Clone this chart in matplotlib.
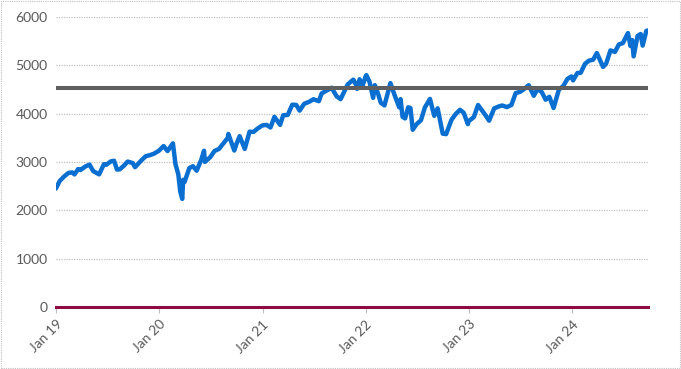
import matplotlib
matplotlib.use("Agg")
import matplotlib.pyplot as plt
import pandas as pd

# index level (semi-monthly readings with key turning points)
DATES = [
    "2019-01-01", "2019-01-15", "2019-01-31", "2019-02-15", "2019-02-28", "2019-03-08",
    "2019-03-21", "2019-03-29", "2019-04-15", "2019-04-30", "2019-05-13", "2019-05-31",
    "2019-06-03", "2019-06-20", "2019-06-28", "2019-07-15", "2019-07-26", "2019-08-05",
    "2019-08-15", "2019-08-30", "2019-09-12", "2019-09-30", "2019-10-08", "2019-10-31",
    "2019-11-15", "2019-11-29", "2019-12-13", "2019-12-31",
    "2020-01-17", "2020-01-31", "2020-02-19", "2020-02-28", "2020-03-09", "2020-03-16",
    "2020-03-23", "2020-03-26", "2020-03-31", "2020-04-17", "2020-04-30", "2020-05-13",
    "2020-05-29", "2020-06-08", "2020-06-11", "2020-06-30", "2020-07-15", "2020-07-31",
    "2020-08-14", "2020-08-31", "2020-09-02", "2020-09-23", "2020-09-30", "2020-10-12",
    "2020-10-30", "2020-11-16", "2020-11-30", "2020-12-15", "2020-12-31",
    "2021-01-15", "2021-01-29", "2021-02-12", "2021-03-04", "2021-03-15", "2021-03-31",
    "2021-04-16", "2021-04-30", "2021-05-12", "2021-05-28", "2021-06-15", "2021-06-30",
    "2021-07-19", "2021-07-29", "2021-08-16", "2021-08-31", "2021-09-02", "2021-09-20",
    "2021-10-04", "2021-10-29", "2021-11-18", "2021-11-30", "2021-12-01", "2021-12-10",
    "2021-12-20", "2021-12-31",
    "2022-01-03", "2022-01-14", "2022-01-27", "2022-02-02", "2022-02-14", "2022-02-23",
    "2022-03-08", "2022-03-29", "2022-04-12", "2022-04-29", "2022-05-04", "2022-05-11",
    "2022-05-20", "2022-05-31", "2022-06-08", "2022-06-16", "2022-06-30", "2022-07-15",
    "2022-07-29", "2022-08-16", "2022-08-31", "2022-09-12", "2022-09-30", "2022-10-12",
    "2022-10-31", "2022-11-15", "2022-11-30", "2022-12-13", "2022-12-28", "2022-12-30",
    "2023-01-18", "2023-02-02", "2023-02-28", "2023-03-13", "2023-03-31", "2023-04-17",
    "2023-04-28", "2023-05-15", "2023-05-31", "2023-06-15", "2023-06-30", "2023-07-14",
    "2023-07-31", "2023-08-18", "2023-08-31", "2023-09-15", "2023-09-29", "2023-10-12",
    "2023-10-27", "2023-11-15", "2023-11-30", "2023-12-15", "2023-12-29",
    "2024-01-04", "2024-01-19", "2024-01-31", "2024-02-15", "2024-02-29", "2024-03-15",
    "2024-03-28", "2024-04-19", "2024-04-30", "2024-05-15", "2024-05-31", "2024-06-14",
    "2024-06-28", "2024-07-16", "2024-07-25", "2024-07-31", "2024-08-05", "2024-08-19",
    "2024-08-30", "2024-09-06", "2024-09-19", "2024-09-26",
]
LEVELS = [
    2450, 2610, 2704, 2775, 2784, 2743, 2854, 2834, 2905, 2946, 2812, 2752,
    2744, 2954, 2942, 3014, 3025, 2844, 2848, 2926, 3009, 2977, 2893, 3038,
    3120, 3141, 3169, 3231,
    3330, 3226, 3386, 2954, 2747, 2386, 2237, 2630, 2585, 2875, 2912, 2820,
    3044, 3232, 3002, 3100, 3227, 3271, 3373, 3500, 3580, 3237, 3363, 3534,
    3270, 3627, 3622, 3695, 3756,
    3768, 3714, 3934, 3768, 3968, 3973, 4185, 4181, 4063, 4204, 4246, 4298,
    4258, 4419, 4480, 4523, 4537, 4358, 4300, 4605, 4704, 4567, 4513, 4712,
    4568, 4766,
    4797, 4663, 4327, 4589, 4401, 4225, 4170, 4632, 4397, 4132, 4300, 3935,
    3901, 4132, 4115, 3667, 3785, 3863, 4130, 4305, 3955, 4110, 3586, 3577,
    3872, 3992, 4080, 4020, 3783, 3840,
    3929, 4179, 3970, 3855, 4109, 4151, 4169, 4136, 4180, 4426, 4450, 4505,
    4589, 4370, 4508, 4450, 4288, 4349, 4117, 4502, 4568, 4719, 4770,
    4688, 4840, 4846, 5030, 5096, 5117, 5254, 4967, 5036, 5308, 5278, 5432,
    5460, 5667, 5399, 5522, 5186, 5608, 5648, 5408, 5713, 5720,
]
REF_LEVEL = 4540
TICK_YEARS = [2019, 2020, 2021, 2022, 2023, 2024]
TICK_LABELS = ["Jan 19", "Jan 20", "Jan 21", "Jan 22", "Jan 23", "Jan 24"]
Y_TICKS = [0, 1000, 2000, 3000, 4000, 5000, 6000]

plt.rcParams["font.family"] = ["Lato", "DejaVu Sans"]

dates = pd.to_datetime(DATES)
fig = plt.figure(figsize=(6.81, 3.69), dpi=100)
ax = fig.add_axes([0.082, 0.168, 0.870, 0.786])

ax.plot(dates, LEVELS, color="#0a6fd0", lw=3.2, solid_joinstyle="round",
        solid_capstyle="round", zorder=3)
ax.axhline(REF_LEVEL, color="#5f5f5f", lw=2.9, zorder=4)
ax.axhline(0, color="#8e0a44", lw=2.2, zorder=4, clip_on=False)

ax.set_ylim(0, 6000)
ax.set_yticks(Y_TICKS)
ax.set_xlim(pd.Timestamp("2019-01-01"), dates[-1])
ticks = [pd.Timestamp(f"{y}-01-01") for y in TICK_YEARS]
ax.set_xticks(ticks)
ax.set_xticklabels(TICK_LABELS, rotation=45, ha="right", rotation_mode="anchor")

ax.grid(axis="y", color="#c0c0c0", lw=0.9, linestyle=(0, (1, 1)), zorder=1)
for s in ax.spines.values():
    s.set_visible(False)
ax.tick_params(axis="y", length=0, pad=6, labelsize=10, labelcolor="#595959")
ax.tick_params(axis="x", length=4, color="#bfbfbf", pad=4, labelsize=10,
               labelcolor="#595959")

border = plt.Rectangle((0.001, 0.002), 0.997, 0.996, transform=fig.transFigure,
                       fill=False, edgecolor="#c0c0c0", lw=0.8, linestyle=(0, (1, 1)))
fig.patches.append(border)

fig.savefig("out.png", dpi=100)
